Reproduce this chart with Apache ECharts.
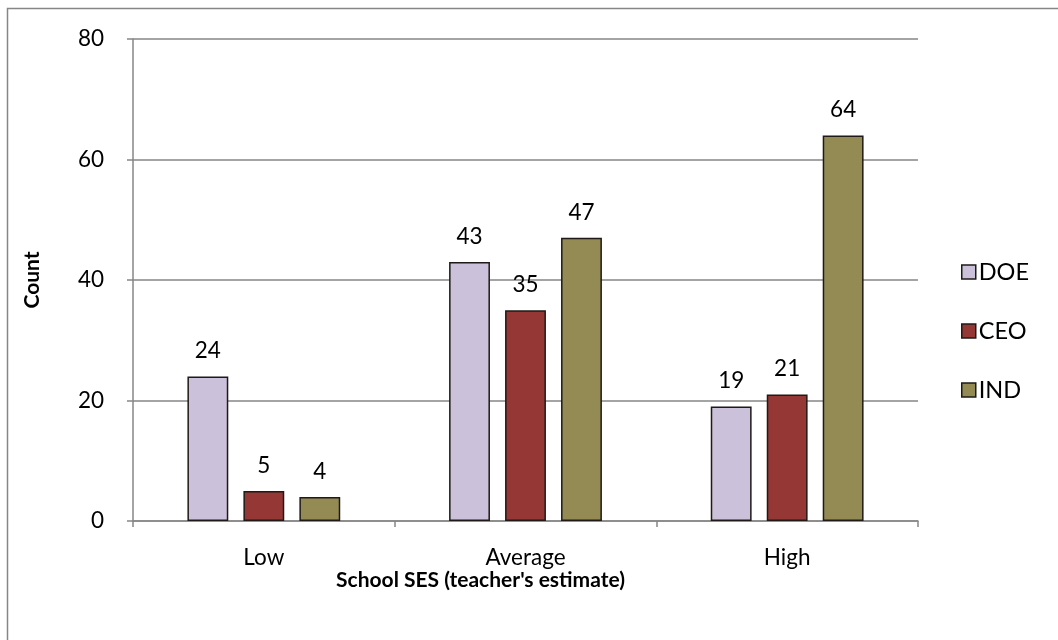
<!DOCTYPE html>
<html><head><meta charset="utf-8">
<script src="https://cdn.jsdelivr.net/npm/echarts@6/dist/echarts.min.js"></script>
<style>html,body{margin:0;padding:0;background:#fff}#c{width:1058px;height:640px}</style>
</head><body><div id="c"></div>
<script>
const categories = ['Low', 'Average', 'High'];
const seriesNames = ['DOE', 'CEO', 'IND'];
const doe = [24, 43, 19];
const ceo = [5, 35, 21];
const ind = [4, 47, 64];
const yTicks = [0, 20, 40, 60, 80];
const colors = ['#CCC1DA', '#953735', '#948A54'];
const FONT = 'Lato';
const chart = echarts.init(document.getElementById('c'), null, {renderer: 'canvas'});
const values = [doe, ceo, ind];
chart.setOption({
  animation: false,
  textStyle: {fontFamily: FONT},
  graphic: [{type: 'rect', shape: {x: 7.5, y: 8.5, width: 1070, height: 660}, style: {fill: 'none', stroke: '#868686', lineWidth: 1.5}, silent: true}],
  grid: {left: 133, right: 140, top: 39, bottom: 119, containLabel: false},
  legend: {
    orient: 'vertical', left: 956, top: 255, itemWidth: 14, itemHeight: 14, itemGap: 35,
    icon: 'rect',
    textStyle: {fontFamily: FONT, fontSize: 23.5, color: '#000', padding: [0, 0, 0, -2]},
    data: seriesNames.map((n, i) => ({name: n, itemStyle: {color: colors[i], borderColor: '#1f1a17', borderWidth: 1.5}}))
  },
  xAxis: {
    type: 'category', data: categories,
    name: "School SES (teacher's estimate)", nameLocation: 'middle', nameGap: 49, nameMoveOverlap: false,
    nameTextStyle: {fontFamily: FONT, fontSize: 21, fontWeight: 'bold', color: '#000', padding: [0, 90, 0, 0]},
    axisLine: {lineStyle: {color: '#868686', width: 1.5}},
    axisTick: {show: true, length: 6, lineStyle: {color: '#868686', width: 1.5}},
    axisLabel: {fontFamily: FONT, fontSize: 22.5, color: '#000', margin: 25}
  },
  yAxis: {
    type: 'value', min: 0, max: 80, interval: 20,
    name: 'Count', nameLocation: 'middle', nameGap: 90, nameRotate: 90, nameMoveOverlap: false,
    nameTextStyle: {fontFamily: FONT, fontSize: 21, fontWeight: 'bold', color: '#000'},
    axisLine: {show: true, lineStyle: {color: '#868686', width: 1.5}},
    axisTick: {show: true, length: 6, lineStyle: {color: '#868686', width: 1.5}},
    axisLabel: {fontFamily: FONT, fontSize: 22.5, color: '#000', margin: 29,
      formatter: v => yTicks.includes(v) ? String(v) : ''},
    splitLine: {show: true, lineStyle: {color: '#868686', width: 1.5}}
  },
  series: seriesNames.map((n, i) => ({
    name: n, type: 'bar', data: values[i],
    barGap: '37%', barCategoryGap: '41.6%',
    itemStyle: {color: colors[i], borderColor: '#1f1a17', borderWidth: 1.5},
    label: {show: true, position: 'top', distance: 14, fontFamily: FONT, fontSize: 22.5, color: '#000'}
  }))
});
</script></body></html>
